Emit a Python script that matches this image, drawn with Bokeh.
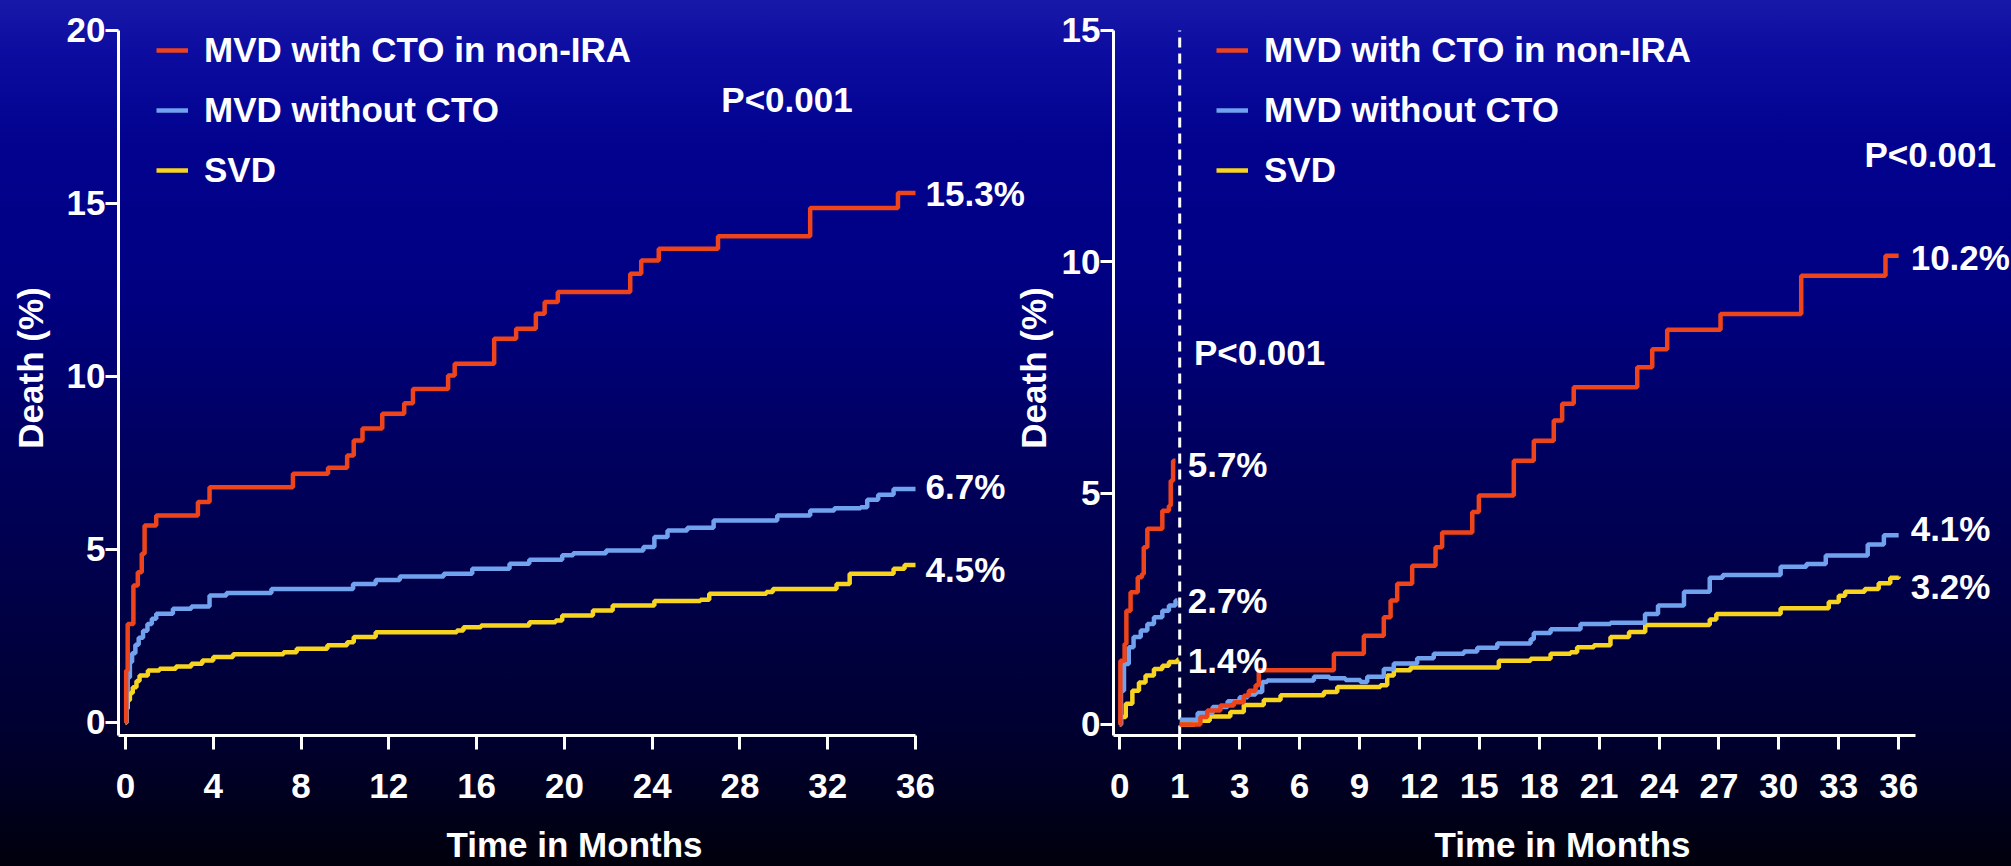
import numpy as np
from bokeh.plotting import figure
from bokeh.models import Range1d, Legend, LegendItem, Label, FixedTicker
from bokeh.layouts import row
from bokeh.embed import file_html
from bokeh.resources import INLINE

FONT = "Liberation Sans"
FS = "35px"
RED, BLUE, YELLOW = "#ee441c", "#70a2ee", "#f6d420"
series_names = ["MVD with CTO in non-IRA", "MVD without CTO", "SVD"]

# ---------------- Left panel: whole 36 months ----------------
left_x_ticks = [0, 4, 8, 12, 16, 20, 24, 28, 32, 36]
left_y_ticks = [0, 5, 10, 15, 20]

red_L_t = [0, 0.03, 0.10, 0.36, 0.56, 0.74, 0.87, 1.40, 3.30, 3.83, 7.63, 9.23, 10.10, 10.40, 10.80,
           11.70, 12.70, 13.10, 14.70, 15.00, 16.80, 17.80, 18.70, 19.10, 19.70, 23.00, 23.50, 24.30,
           27.00, 31.20, 35.20, 36.00]
red_L_v = [0, 1.50, 2.85, 3.96, 4.34, 4.88, 5.69, 5.98, 6.37, 6.80, 7.19, 7.36, 7.72, 8.15, 8.50,
           8.92, 9.23, 9.64, 10.03, 10.37, 11.09, 11.38, 11.81, 12.15, 12.44, 12.97, 13.35, 13.69,
           14.05, 14.87, 15.30, 15.30]

blue_L_t = [0, 0.05, 0.10, 0.20, 0.30, 0.45, 0.60, 0.80, 1.00, 1.20, 1.40, 2.16, 3.00, 3.83, 4.60,
            6.65, 10.37, 11.40, 12.50, 14.50, 15.80, 17.50, 18.40, 19.90, 20.40, 21.90, 23.60, 24.10,
            24.70, 25.60, 26.80, 29.70, 31.20, 32.30, 33.50, 33.80, 34.30, 35.00, 36.00]
blue_L_v = [0, 0.90, 1.30, 1.75, 2.00, 2.25, 2.45, 2.65, 2.85, 3.00, 3.14, 3.29, 3.35, 3.67, 3.74,
            3.86, 4.00, 4.12, 4.22, 4.30, 4.44, 4.59, 4.70, 4.83, 4.89, 4.97, 5.07, 5.36,
            5.55, 5.63, 5.84, 5.98, 6.13, 6.19, 6.22, 6.44, 6.58, 6.75, 6.75]

yellow_L_t = [0, 0.05, 0.10, 0.20, 0.33, 0.50, 0.64, 1.02, 1.55, 2.30, 3.00, 3.50, 4.00, 4.90, 7.20,
              7.80, 9.20, 10.10, 10.40, 11.40, 15.10, 15.40, 16.20, 18.40, 19.60, 19.90, 21.30, 22.20,
              24.10, 26.20, 26.60, 29.20, 29.50, 32.40, 33.00, 35.00, 35.50, 36.00]
yellow_L_v = [0, 0.40, 0.64, 0.85, 1.02, 1.20, 1.36, 1.50, 1.55, 1.62, 1.70, 1.79, 1.89, 1.97, 2.03,
              2.13, 2.23, 2.32, 2.47, 2.61, 2.66, 2.75, 2.80, 2.90, 2.95, 3.09, 3.24, 3.38,
              3.51, 3.55, 3.72, 3.77, 3.86, 4.00, 4.30, 4.44, 4.55, 4.55]
left_end_labels = ["15.3%", "6.7%", "4.5%"]

# ---------------- Right panel: landmark analysis ----------------
right_tick_values = [0, 1, 3, 6, 9, 12, 15, 18, 21, 24, 27, 30, 33, 36]
right_tick_pos = [0, 3, 6, 9, 12, 15, 18, 21, 24, 27, 30, 33, 36, 39]
right_y_ticks = [0, 5, 10, 15]
landmark_month = 1

# 0-1 month
red_E_t = [0, 0.01, 0.08, 0.11, 0.18, 0.30, 0.37, 0.40, 0.46, 0.71, 0.82, 0.85, 0.89, 0.93]
red_E_v = [0, 1.38, 1.74, 2.46, 2.86, 3.18, 3.25, 3.83, 4.23, 4.62, 4.73, 5.27, 5.70, 5.70]
blue_E_t = [0, 0.02, 0.07, 0.15, 0.23, 0.35, 0.46, 0.57, 0.71, 0.82, 0.93, 0.96]
blue_E_v = [0, 0.73, 1.31, 1.67, 1.89, 2.03, 2.17, 2.32, 2.46, 2.57, 2.68, 2.68]
yellow_E_t = [0, 0.02, 0.10, 0.21, 0.32, 0.43, 0.57, 0.71, 0.82, 0.96, 0.98]
yellow_E_v = [0, 0.16, 0.45, 0.73, 0.91, 1.06, 1.20, 1.27, 1.35, 1.40, 1.40]
early_labels = ["5.7%", "2.7%", "1.4%"]

# 1-36 months
red_M_t = [1, 1.69, 1.92, 2.36, 2.81, 3.21, 3.46, 3.80, 3.96, 7.72, 9.22, 10.22, 10.56, 10.89, 11.64,
           12.81, 13.14, 14.65, 14.98, 16.73, 17.73, 18.73, 19.15, 19.73, 22.91, 23.66, 24.41, 27.08,
           31.12, 35.34, 36]
red_M_v = [0, 0.16, 0.30, 0.41, 0.48, 0.62, 0.73, 0.85, 1.17, 1.53, 1.92, 2.32, 2.68, 3.04, 3.43,
           3.83, 4.15, 4.59, 4.95, 5.70, 6.13, 6.57, 6.93, 7.29, 7.72, 8.11, 8.53, 8.87,
           9.70, 10.13, 10.13]
blue_M_t = [1, 1.6, 2.1, 2.6, 3.0, 3.4, 3.8, 4.13, 4.38, 6.72, 7.5, 8.3, 9.05, 9.39, 10.22, 10.72,
            11.89, 12.72, 14.23, 14.90, 15.90, 17.57, 17.73, 18.57, 20.07, 21.57, 23.30, 23.95, 25.25,
            26.54, 27.19, 30.09, 31.38, 32.35, 34.45, 35.26, 36]
blue_M_v = [0.10, 0.25, 0.38, 0.50, 0.59, 0.65, 0.70, 0.92, 0.95, 1.03, 1.00, 0.96, 0.92, 1.03, 1.20, 1.32,
            1.43, 1.53, 1.58, 1.66, 1.75, 1.84, 1.98, 2.06, 2.17, 2.20, 2.39, 2.57, 2.87,
            3.17, 3.23, 3.41, 3.47, 3.65, 3.89, 4.09, 4.09]
yellow_M_t = [1, 1.5, 2.0, 2.69, 3.21, 4.21, 5.05, 7.22, 7.89, 10.05, 10.39, 10.72, 11.56, 15.98, 17.57,
              18.57, 19.57, 19.90, 20.74, 21.57, 22.50, 23.31, 26.54, 26.87, 30.09, 32.50, 33.00, 33.32,
              34.30, 35.00, 35.58, 36]
yellow_M_v = [0, 0.08, 0.17, 0.27, 0.42, 0.53, 0.63, 0.70, 0.81, 0.85, 1.06, 1.17, 1.23, 1.38, 1.42,
              1.53, 1.56, 1.67, 1.71, 1.89, 2.00, 2.15, 2.27, 2.39, 2.51, 2.65, 2.78, 2.87,
              2.93, 3.05, 3.17, 3.20]
right_end_labels = ["10.2%", "4.1%", "3.2%"]
p_value_text = "P<0.001"


def pos_R(t):
    return np.interp(t, right_tick_values, right_tick_pos)


def style(p, ylab_standoff, ytick_standoff):
    p.background_fill_color = None
    p.border_fill_color = None
    p.outline_line_color = None
    p.xgrid.visible = False
    p.ygrid.visible = False
    for ax in p.axis:
        ax.axis_line_color = "white"
        ax.axis_line_width = 3
        ax.major_tick_line_color = "white"
        ax.major_tick_line_width = 3
        ax.major_tick_in = 0
        ax.minor_tick_line_color = None
        ax.major_label_text_color = "white"
        ax.major_label_text_font = FONT
        ax.major_label_text_font_style = "bold"
        ax.major_label_text_font_size = FS
        ax.axis_label_text_color = "white"
        ax.axis_label_text_font = FONT
        ax.axis_label_text_font_style = "bold"
        ax.axis_label_text_font_size = FS
    p.xaxis.major_tick_out = 14
    p.yaxis.major_tick_out = 13
    p.xaxis.major_label_standoff = 24
    p.xaxis.axis_label_standoff = 24
    p.yaxis.major_label_standoff = ytick_standoff
    p.yaxis.axis_label_standoff = ylab_standoff
    p.xaxis.axis_label = "Time in Months"
    p.yaxis.axis_label = "Death (%)"


def text_label(p, x, y, text, x_offset=0, y_offset=0):
    p.add_layout(Label(x=x, y=y, text=text, x_offset=x_offset, y_offset=y_offset,
                       text_color="white", text_font=FONT, text_font_style="bold",
                       text_font_size=FS, text_baseline="middle", text_align="left"))


def make_legend(renderers, vx):
    items = [LegendItem(label=n, renderers=[r]) for n, r in zip(series_names, renderers)]
    return Legend(items=items, location=(vx, 541), orientation="vertical",
                  label_text_color="white", label_text_font=FONT, label_text_font_style="bold",
                  label_text_font_size=FS, glyph_width=32, glyph_height=48, label_height=48,
                  spacing=12, label_standoff=16, padding=0, margin=0,
                  background_fill_alpha=0, border_line_color=None)


# ---- left figure (frame reaches the canvas edges; axes are bounded to the data span)
L_y0, L_y1 = -0.376, 20.867
p1 = figure(width=1030, height=866, x_range=Range1d(-0.319, 41.24), y_range=Range1d(L_y0, L_y1),
            output_backend="svg", toolbar_location=None,
            min_border_left=118, min_border_right=0, min_border_top=0, min_border_bottom=131,
            styles={"flex-shrink": "0"})
style(p1, 14, 0)
p1.xaxis.bounds = (-0.319, 36)
p1.yaxis.bounds = (L_y0, left_y_ticks[-1])
p1.xaxis.ticker = FixedTicker(ticks=left_x_ticks)
p1.yaxis.ticker = FixedTicker(ticks=left_y_ticks)

rl = []
for t, v, c in [(yellow_L_t, yellow_L_v, YELLOW), (blue_L_t, blue_L_v, BLUE), (red_L_t, red_L_v, RED)]:
    rl.append(p1.step(t, v, mode="after", line_color=c, line_width=4.5))
rl = rl[::-1]
p1.add_layout(make_legend(rl, 38))
for (t, v), lab, dy in zip([(red_L_t, red_L_v), (blue_L_t, blue_L_v), (yellow_L_t, yellow_L_v)],
                           left_end_labels, [0, 2, -4]):
    text_label(p1, t[-1], v[-1], lab, x_offset=10, y_offset=dy)
text_label(p1, 27.15, 18.0, p_value_text)

# ---- right figure
R_y0, R_y1 = -0.238, 15.648
p2 = figure(width=1011, height=866, x_range=Range1d(-0.315, 44.65), y_range=Range1d(R_y0, R_y1),
            output_backend="svg", toolbar_location=None,
            min_border_left=113, min_border_right=0, min_border_top=0, min_border_bottom=131,
            styles={"margin-left": "-30px", "flex-shrink": "0"})
style(p2, 6, 0)
p2.xaxis.bounds = (-0.315, 39.84)
p2.yaxis.bounds = (R_y0, right_y_ticks[-1])
p2.xaxis.ticker = FixedTicker(ticks=right_tick_pos)
p2.xaxis.major_label_overrides = {pp: str(v) for pp, v in zip(right_tick_pos, right_tick_values)}
p2.yaxis.ticker = FixedTicker(ticks=right_y_ticks)

lm = float(pos_R(landmark_month))
p2.segment(x0=[lm], y0=[R_y0], x1=[lm], y1=[right_y_ticks[-1]], line_color="white",
           line_width=3, line_dash="10 6")

re_ = []
for t, v, c in [(yellow_E_t, yellow_E_v, YELLOW), (blue_E_t, blue_E_v, BLUE), (red_E_t, red_E_v, RED)]:
    re_.append(p2.step(pos_R(t), v, mode="after", line_color=c, line_width=4.5))
for t, v, c in [(yellow_M_t, yellow_M_v, YELLOW), (blue_M_t, blue_M_v, BLUE), (red_M_t, red_M_v, RED)]:
    p2.step(pos_R(t), v, mode="after", line_color=c, line_width=4.5)
re_ = re_[::-1]
p2.add_layout(make_legend(re_, 103))

for v, lab, dy in zip([red_E_v, blue_E_v, yellow_E_v], early_labels, [-4, 0, -1]):
    text_label(p2, lm, v[-1], lab, x_offset=8, y_offset=dy)
for (t, v), lab, dy in zip([(red_M_t, red_M_v), (blue_M_t, blue_M_v), (yellow_M_t, yellow_M_v)],
                           right_end_labels, [-2, 7, -10]):
    text_label(p2, pos_R(t[-1]), v[-1], lab, x_offset=12, y_offset=dy)
text_label(p2, 37.29, 12.33, p_value_text)
text_label(p2, 3.71, 8.04, p_value_text)

gradient = ("linear-gradient(180deg, #1818a8 0%, #0c0ca0 6%, #02028e 17%, #000080 35%, "
            "#00005e 53%, #000046 70%, #00002e 86%, #00000c 100%)")
layout = row(p1, p2, styles={"position": "absolute", "top": "0px", "left": "0px",
                             "width": "2011px", "height": "866px", "background": gradient})

open("out.html", "w").write(file_html(layout, INLINE))
